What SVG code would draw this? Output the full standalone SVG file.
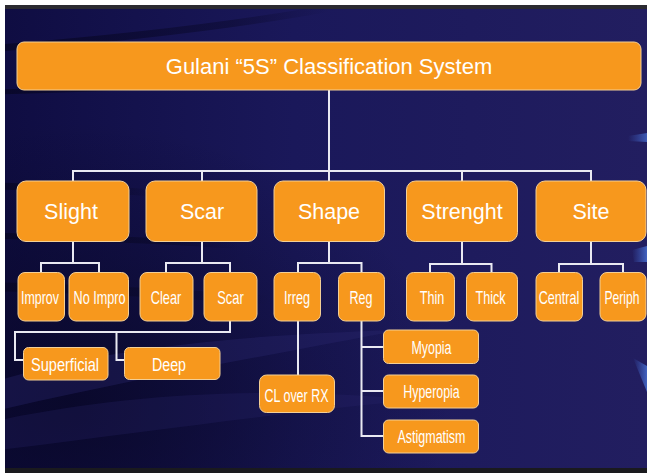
<svg xmlns="http://www.w3.org/2000/svg" width="647" height="473" viewBox="0 0 647 473">
<defs>
<linearGradient id="bg" x1="0" y1="0" x2="1" y2="0">
<stop offset="0" stop-color="#0f0d42"/>
<stop offset="0.45" stop-color="#1a185a"/>
<stop offset="1" stop-color="#221e60"/>
</linearGradient>
<radialGradient id="dk" cx="0.1" cy="0.85" r="0.6">
<stop offset="0" stop-color="#070622" stop-opacity="0.75"/>
<stop offset="1" stop-color="#070622" stop-opacity="0"/>
</radialGradient>
<linearGradient id="blu" x1="0" y1="0" x2="1" y2="0">
<stop offset="0" stop-color="#3f64c8" stop-opacity="0"/>
<stop offset="1" stop-color="#4a74d8"/>
</linearGradient>
<linearGradient id="fade" x1="0" y1="0" x2="1" y2="0">
<stop offset="0" stop-color="#05041c" stop-opacity="0.6"/>
<stop offset="0.7" stop-color="#05041c" stop-opacity="0.35"/>
<stop offset="1" stop-color="#05041c" stop-opacity="0"/>
</linearGradient>
<clipPath id="bgclip"><rect x="5" y="9" width="642" height="459"/></clipPath>
</defs>
<style>
.box{fill:#F7981D;stroke:#f3cf96;stroke-width:1}
.t{font-family:"Liberation Sans",Arial,sans-serif;fill:#ffffff;text-anchor:middle}
.t0{font-size:22px}
.t1{font-size:21.5px}
.t2{font-size:18.5px}
.t3{font-size:17.5px}
.c{fill:none;stroke:#e9e9f2;stroke-width:2}
.sw{fill:none;stroke:url(#fade);stroke-linecap:butt}
</style>
<rect x="0" y="0" width="647" height="473" fill="#ffffff"/>
<rect x="5" y="5" width="642" height="468" fill="url(#bg)"/>
<rect x="5" y="5" width="642" height="468" fill="url(#dk)"/>
<g clip-path="url(#bgclip)">
<path class="sw" d="M0,48 C100,40 220,28 330,8" stroke-width="7"/>
<path class="sw" d="M0,92 C90,90 180,87 260,84" stroke-width="5"/>
<path class="sw" d="M0,137 C120,137 240,137 340,137" stroke-width="9" stroke-opacity="0.8"/>
<path class="sw" d="M0,186 C60,188 110,190 160,193" stroke-width="7"/>
<path class="sw" d="M0,236 C80,237 160,241 240,246" stroke-width="6"/>
<path class="sw" d="M0,287 C90,289 180,294 270,300" stroke-width="9" stroke-opacity="0.8"/>
<path d="M0,380 C100,350 230,335 400,330 C300,350 150,375 0,410 Z" fill="#2a2770" fill-opacity="0.35"/>
<path d="M0,420 C120,395 260,385 420,400 C300,410 160,430 0,450 Z" fill="#2a2770" fill-opacity="0.25"/>
<path d="M628,136 L647,133 L647,142 L628,141 Z" fill="url(#blu)" opacity="0.7"/>
<path d="M632,250 L647,246 L647,262 L634,262 Z" fill="url(#blu)" opacity="0.8"/>
<path d="M633,358 L647,366 L647,392 Z" fill="url(#blu)" opacity="0.8"/>
</g>
<rect x="5" y="5" width="642" height="4" fill="#2b2a30"/>
<rect x="5" y="468" width="642" height="5" fill="#1a1a1e"/>

<g id="connectors">
<path class="c" d="M329,90 V171"/>
<path class="c" d="M73,181 V171 H591 V181"/>
<path class="c" d="M202,171 V181 M329,171 V181 M462,171 V181"/>
<path class="c" d="M73,241 V263 M41,272 V263 H99 V272"/>
<path class="c" d="M202,241 V263 M166,272 V263 H230 V272"/>
<path class="c" d="M329,241 V263 M298,272 V263 H361.5 V272"/>
<path class="c" d="M462,241 V264 M430,272 V264 H491.5 V272"/>
<path class="c" d="M591,241 V264 M559,272 V264 H623 V272"/>
<path class="c" d="M230,321 V332 H15 V360 H23.5 M116.5,332 V360 H124.5"/>
<path class="c" d="M298,321 V375"/>
<path class="c" d="M361.5,321 V436 H383.5 M361.5,347 H383.5 M361.5,391 H383.5"/>
</g>

<g id="title"><rect class="box" x="17" y="42" width="624" height="48" rx="7"/><text class="t t0" x="329" y="74">Gulani “5S” Classification System</text></g>

<g id="slight"><rect class="box" x="17" y="181" width="112" height="60.5" rx="9"/><text class="t t1" x="71" y="219">Slight</text></g>
<g id="scar"><rect class="box" x="146" y="181" width="111" height="60.5" rx="9"/><text class="t t1" x="202" y="219">Scar</text></g>
<g id="shape"><rect class="box" x="274" y="181" width="110.5" height="60.5" rx="9"/><text class="t t1" x="329" y="219">Shape</text></g>
<g id="strenght"><rect class="box" x="406.5" y="181" width="111" height="60.5" rx="9"/><text class="t t1" x="462" y="219">Strenght</text></g>
<g id="site"><rect class="box" x="536" y="181" width="110" height="60.5" rx="9"/><text class="t t1" x="591" y="219">Site</text></g>

<g id="improv"><rect class="box" x="18" y="272.5" width="46.5" height="48.5" rx="7"/><text class="t t2" x="40" y="303.5" textLength="38" lengthAdjust="spacingAndGlyphs">Improv</text></g>
<g id="no-impro"><rect class="box" x="69" y="272.5" width="59.5" height="48.5" rx="7"/><text class="t t2" x="99.5" y="303.5" textLength="52" lengthAdjust="spacingAndGlyphs">No Impro</text></g>
<g id="clear"><rect class="box" x="140" y="272.5" width="53" height="48.5" rx="7"/><text class="t t2" x="166" y="303.5" textLength="30.5" lengthAdjust="spacingAndGlyphs">Clear</text></g>
<g id="scar2"><rect class="box" x="204" y="272.5" width="53" height="48.5" rx="7"/><text class="t t2" x="230.5" y="303.5" textLength="26.5" lengthAdjust="spacingAndGlyphs">Scar</text></g>
<g id="irreg"><rect class="box" x="274" y="272.5" width="46.5" height="48.5" rx="7"/><text class="t t2" x="297" y="303.5" textLength="26" lengthAdjust="spacingAndGlyphs">Irreg</text></g>
<g id="reg"><rect class="box" x="338.5" y="272.5" width="46" height="48.5" rx="7"/><text class="t t2" x="361" y="303.5" textLength="23" lengthAdjust="spacingAndGlyphs">Reg</text></g>
<g id="thin"><rect class="box" x="406.5" y="272.5" width="48" height="48.5" rx="7"/><text class="t t2" x="432" y="303.5" textLength="24.5" lengthAdjust="spacingAndGlyphs">Thin</text></g>
<g id="thick"><rect class="box" x="466.5" y="272.5" width="51" height="48.5" rx="7"/><text class="t t2" x="490.5" y="303.5" textLength="30" lengthAdjust="spacingAndGlyphs">Thick</text></g>
<g id="central"><rect class="box" x="536" y="272.5" width="46.5" height="48.5" rx="7"/><text class="t t2" x="559" y="303.5" textLength="40.5" lengthAdjust="spacingAndGlyphs">Central</text></g>
<g id="periph"><rect class="box" x="600" y="272.5" width="46" height="48.5" rx="7"/><text class="t t2" x="622" y="303.5" textLength="35" lengthAdjust="spacingAndGlyphs">Periph</text></g>

<g id="superficial"><rect class="box" x="23.5" y="347.5" width="84.5" height="32.5" rx="5"/><text class="t t3" x="65" y="370.5" textLength="68" lengthAdjust="spacingAndGlyphs">Superficial</text></g>
<g id="deep"><rect class="box" x="124.5" y="347.5" width="95.5" height="32" rx="5"/><text class="t t3" x="169" y="370.5" textLength="34" lengthAdjust="spacingAndGlyphs">Deep</text></g>
<g id="cl-over-rx"><rect class="box" x="259.5" y="375" width="75" height="37.5" rx="7"/><text class="t t3" x="296.5" y="401.5" textLength="64" lengthAdjust="spacingAndGlyphs">CL over RX</text></g>
<g id="myopia"><rect class="box" x="383.5" y="330" width="95" height="33.5" rx="5"/><text class="t t3" x="431.5" y="353.5" textLength="40" lengthAdjust="spacingAndGlyphs">Myopia</text></g>
<g id="hyperopia"><rect class="box" x="383.5" y="375" width="95" height="33" rx="5"/><text class="t t3" x="431.5" y="398" textLength="56.5" lengthAdjust="spacingAndGlyphs">Hyperopia</text></g>
<g id="astigmatism"><rect class="box" x="383.5" y="420" width="95" height="33" rx="5"/><text class="t t3" x="431.5" y="442.5" textLength="68" lengthAdjust="spacingAndGlyphs">Astigmatism</text></g>
</svg>
